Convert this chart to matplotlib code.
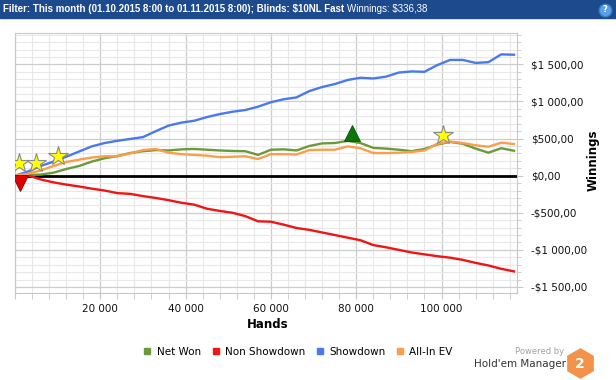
import numpy as np
import matplotlib
matplotlib.use("Agg")
import matplotlib.pyplot as plt
from matplotlib.lines import Line2D
from matplotlib.patches import Rectangle
from matplotlib.ticker import MultipleLocator, FuncFormatter

# hands played (thousands) at which the lines were read
hands_k = [0, 3, 6, 9, 12, 15, 18, 21, 24, 27, 30, 33, 36, 39, 42, 45, 48, 51, 54, 57,
           60, 63, 66, 69, 72, 75, 78, 81, 84, 87, 90, 93, 96, 99, 102, 105, 108, 111, 114, 117]

net_won = [0, 10, 15, 40, 90, 130, 190, 235, 265, 305, 330, 345, 340, 355, 360, 350, 340, 333, 330, 280,
           350, 355, 340, 400, 435, 440, 470, 440, 375, 365, 350, 330, 360, 420, 455, 430, 365, 310, 370, 336]
non_showdown = [0, 5, -50, -90, -120, -145, -175, -200, -235, -245, -275, -300, -330, -365, -390, -445, -475, -500, -545, -615,
                -620, -660, -705, -730, -765, -800, -835, -870, -935, -965, -1000, -1035, -1060, -1085, -1105, -1135, -1175, -1210, -1255, -1290]
showdown = [0, 55, 130, 190, 255, 325, 395, 440, 470, 495, 520, 600, 675, 715, 740, 790, 830, 862, 885, 930,
            990, 1030, 1055, 1140, 1195, 1235, 1290, 1320, 1310, 1335, 1390, 1405, 1400, 1490, 1560, 1560, 1520, 1530, 1635, 1630]
allin_ev = [0, 25, 70, 130, 185, 215, 245, 262, 260, 300, 345, 360, 310, 290, 280, 270, 250, 255, 262, 225,
            290, 290, 285, 345, 350, 350, 395, 370, 305, 305, 310, 320, 340, 430, 460, 440, 410, 390, 445, 427]

series_names = ["Net Won", "Non Showdown", "Showdown", "All-In EV"]
series_colors = ["#6b9a3b", "#f01414", "#4a78f0", "#fa9e4c"]

# event markers (hands in thousands, winnings)
star_x = [0.9, 4.9, 10.0, 100.3]
star_y = [171, 171, 263, 548]
up_x, up_y = [79.0], [575]
down_x, down_y = [1.2], [-98]

fig = plt.figure(figsize=(6.16, 3.8), dpi=100)
W, H = 616, 380


def fx(px):
    return px / W


def fy(py):
    return 1 - py / H


# header bar
fig.patches.append(Rectangle((0, fy(18)), 1, 18 / H, transform=fig.transFigure,
                             color="#1d4a8c", zorder=0))
t1 = fig.text(fx(3), fy(9), "Filter: This month (01.10.2015 8:00 to 01.11.2015 8:00); Blinds: $10NL Fast",
              color="white", fontsize=7, fontweight="bold", family="Liberation Sans",
              va="center", ha="left")
fig.canvas.draw()
bb = t1.get_window_extent(fig.canvas.get_renderer())
fig.text(bb.x1 / W + fx(3), fy(9), "Winnings: $336,38", color="white", fontsize=7,
         family="Liberation Sans", va="center", ha="left")
fig.add_artist(Line2D([fx(605)], [fy(10)], marker="o", ms=9, mfc="#5aa0e6", mec="#3a80c6",
                      transform=fig.transFigure))
fig.text(fx(605), fy(10), "?", color="white", fontsize=6, fontweight="bold",
         ha="center", va="center")

ax = fig.add_axes([fx(15), fy(292.7), 502 / W, 259.4 / H])
x = np.array(hands_k) * 1000
for vals, name, col in zip([net_won, non_showdown, showdown, allin_ev], series_names, series_colors):
    ax.plot(x, vals, color=col, lw=1.7, label=name, zorder=3)

ax.axhline(0, color="black", lw=2, zorder=2)
ax.plot(np.array(star_x) * 1000, star_y, ls="none", marker="*", ms=15, mfc="#ffff00",
        mec="#8a8a8a", mew=0.8, zorder=5)
ax.plot(np.array(up_x) * 1000, up_y, ls="none", marker="^", ms=11, mfc="#0a760a",
        mec="#055005", mew=0.6, zorder=5)
ax.plot(np.array(down_x) * 1000, down_y, ls="none", marker="v", ms=11, mfc="#e00000",
        mec="#800000", mew=0.6, zorder=5)

ax.set_xlim(0, 117700)
ax.set_ylim(-1577, 1919)
ax.xaxis.set_major_locator(MultipleLocator(20000))
ax.xaxis.set_minor_locator(MultipleLocator(4000))
ax.yaxis.set_major_locator(MultipleLocator(500))
ax.yaxis.set_minor_locator(MultipleLocator(100))


def money(v, pos):
    s = f"{abs(v):,.2f}".replace(",", " ").replace(".", ",")
    return ("-$" if v < 0 else "$") + s


ax.xaxis.set_major_formatter(FuncFormatter(lambda v, p: "" if v == 0 else f"{v:,.0f}".replace(",", " ")))
ax.yaxis.set_major_formatter(FuncFormatter(money))
ax.yaxis.tick_right()
ax.tick_params(axis="both", which="both", colors="#c8c8c8", labelcolor="#111111", labelsize=7.5)
ax.tick_params(axis="y", which="major", length=4, pad=6)
ax.tick_params(axis="y", which="minor", length=3)
ax.tick_params(axis="x", which="major", length=4, pad=4)
ax.tick_params(axis="x", which="minor", length=4)

ax.grid(which="major", color="#cccccc", lw=0.9, zorder=0)
ax.grid(which="minor", color="#e8e8e8", lw=0.8, zorder=0)
for sp in ax.spines.values():
    sp.set_color("#c8c8c8")

fig.text(fx(268), fy(325), "Hands", fontsize=8.5, fontweight="bold", ha="center", va="center")
fig.text(fx(593), fy(160), "Winnings", fontsize=8.5, fontweight="bold", rotation=90,
         ha="center", va="center")

handles = [Line2D([], [], ls="none", marker="s", ms=5, color=c) for c in series_colors]
fig.legend(handles, series_names, loc="center", bbox_to_anchor=(fx(298), fy(352)), ncol=4,
           frameon=False, fontsize=7.5, handlelength=0.8, handletextpad=0.5, columnspacing=1.0)

fig.text(fx(564), fy(352), "Powered by", fontsize=6, color="#a0a0a0", ha="right", va="center")
fig.text(fx(566), fy(364), "Hold'em Manager", fontsize=7.5, color="#333333", ha="right", va="center")
fig.add_artist(Line2D([fx(580)], [fy(363)], marker="h", ms=21, mfc="#f39249", mec="#f39249",
                      transform=fig.transFigure))
fig.text(fx(580), fy(363.5), "2", fontsize=10, color="white", fontweight="bold",
         ha="center", va="center")

fig.savefig("out.png", dpi=100)
